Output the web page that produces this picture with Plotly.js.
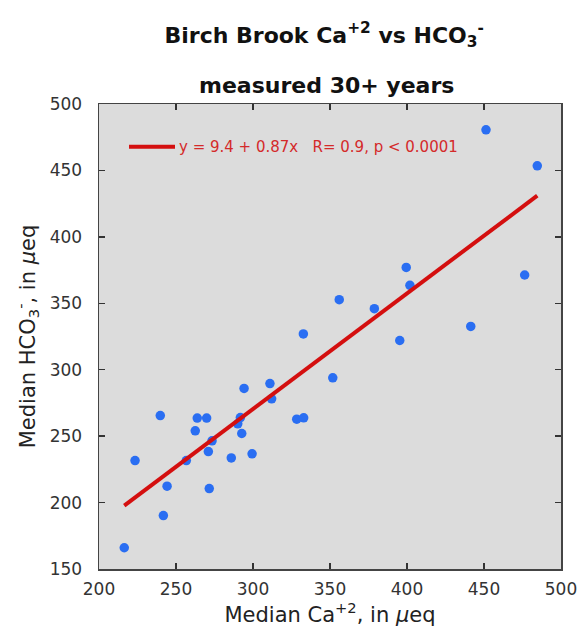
<!DOCTYPE html>
<html>
<head>
<meta charset="utf-8">
<script src="https://cdn.plot.ly/plotly-3.0.1.min.js"></script>
<style>html,body{margin:0;padding:0;background:#fff;}#chart{width:581px;height:633px;}</style>
</head>
<body>
<div id="chart"></div>
<script>
// Median Ca+2 (µeq) for each point
const caValues = [239.8, 223.4, 244.2, 241.8, 216.4, 256.7, 263.8, 269.9, 262.5, 273.4,
  271.0, 271.6, 285.9, 290.1, 291.8, 292.7, 294.2, 299.4, 311.0, 312.1,
  328.4, 332.9, 351.8, 332.7, 451.3, 484.6, 399.5, 401.9, 356.0, 378.8,
  476.4, 441.4, 395.3];
// Median HCO3- (µeq) for each point
const hco3Values = [265.5, 231.6, 212.3, 190.2, 166.0, 231.6, 263.6, 263.6, 254.0, 246.5,
  238.4, 210.5, 233.6, 259.3, 264.0, 252.0, 285.9, 236.7, 289.6, 278.1,
  262.8, 263.8, 293.9, 326.9, 480.6, 453.5, 377.0, 363.5, 352.7, 345.9,
  371.3, 332.6, 322.0];
// Regression fit reported on the chart
const fitIntercept = 9.4;
const fitSlope = 0.87;
const fitLabel = "y = 9.4 + 0.87x\u00A0\u00A0\u00A0R= 0.9, p < 0.0001";
const xTicks = [200, 250, 300, 350, 400, 450, 500];
const yTicks = [150, 200, 250, 300, 350, 400, 450, 500];

const xMin = Math.min(...caValues), xMax = Math.max(...caValues);
const fitX = [xMin, xMax];
const fitY = fitX.map(v => fitIntercept + fitSlope * v);

const FONT = "DejaVu Sans, Verdana, sans-serif";
const RED = '#d40f0f';

const data = [
  {
    x: caValues, y: hco3Values, type: 'scatter', mode: 'markers',
    marker: {color: '#2a6ef2', size: 9.5},
    showlegend: false, hoverinfo: 'x+y'
  },
  {
    x: fitX, y: fitY, type: 'scatter', mode: 'lines',
    line: {color: RED, width: 4},
    name: fitLabel, showlegend: false
  }
];

const axisCommon = {
  showgrid: false, zeroline: false,
  showline: true, linecolor: '#444', linewidth: 1.5, mirror: 'ticks',
  ticks: 'inside', ticklen: 6, tickwidth: 1.5, tickcolor: '#333',
  tickfont: {family: FONT, size: 17, color: '#333'},
  tickmode: 'array'
};

const layout = {
  width: 581, height: 633,
  margin: {l: 99, r: 20, t: 104, b: 64, pad: 0},
  paper_bgcolor: '#ffffff', plot_bgcolor: '#dcdcdc',
  font: {family: FONT, color: '#222'},
  title: {
    text: '<b>Birch Brook Ca<sup>+2</sup> vs HCO<sub>3</sub><sup>-</sup></b>',
    font: {family: FONT, size: 22, color: '#111'},
    x: 0.558, xanchor: 'center', y: 0.945, yanchor: 'middle'
  },
  shapes: [{
    type: 'line', xref: 'paper', yref: 'paper',
    x0: 0.065, x1: 0.1645, y0: 0.9078, y1: 0.9078,
    line: {color: RED, width: 4}
  }],
  annotations: [
    {
      text: '<b>measured 30+ years</b>', xref: 'paper', yref: 'paper',
      x: 0.4925, y: 1, yshift: 19, xanchor: 'center', yanchor: 'middle', showarrow: false,
      font: {family: FONT, size: 22, color: '#111'}
    },
    {
      text: fitLabel, xref: 'paper', yref: 'paper',
      x: 0.1695, y: 0.9078, xanchor: 'left', yanchor: 'middle', showarrow: false,
      font: {family: FONT, size: 15, color: '#d42a2a'}
    }
  ],
  xaxis: Object.assign({}, axisCommon, {
    range: [200, 500], tickvals: xTicks, ticktext: xTicks.map(String),
    ticklabelstandoff: 4,
    title: {text: 'Median Ca<sup>+2</sup>, in <i>\u03BC</i>eq', font: {family: FONT, size: 21, color: '#222'}, standoff: 8}
  }),
  yaxis: Object.assign({}, axisCommon, {
    range: [150, 500], tickvals: yTicks, ticktext: yTicks.map(String),
    ticklabelstandoff: 12,
    title: {text: 'Median HCO<sub>3</sub><sup>-</sup>, in <i>\u03BC</i>eq', font: {family: FONT, size: 21, color: '#222'}, standoff: 8}
  }),
  showlegend: false
};

Plotly.newPlot('chart', data, layout, {displayModeBar: false, staticPlot: true});
</script>
</body>
</html>
